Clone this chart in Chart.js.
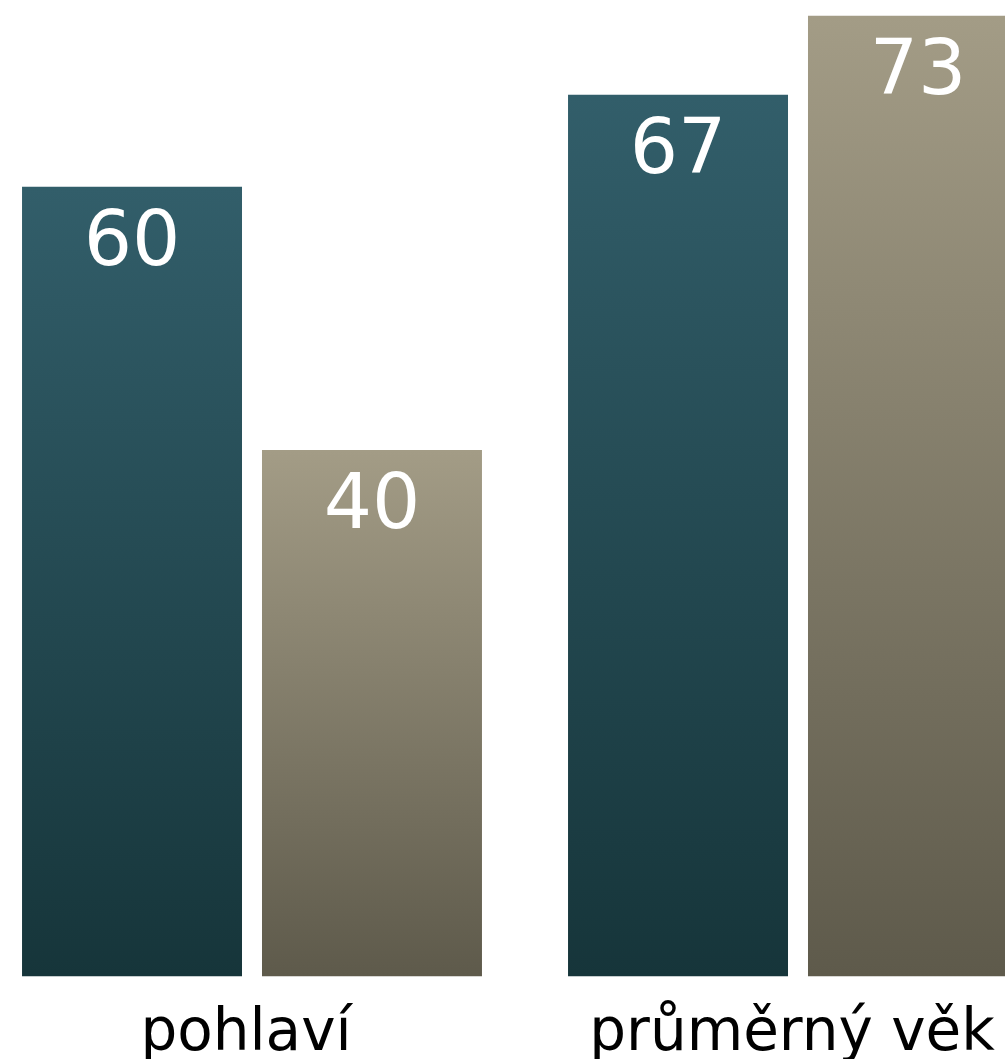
<!DOCTYPE html>
<html lang="cs">
<head>
<meta charset="utf-8">
<title>pohlaví a průměrný věk</title>
<script src="https://cdn.jsdelivr.net/npm/chart.js@4/dist/chart.umd.min.js"></script>
<style>
  html, body { margin: 0; padding: 0; background: #fff; overflow: hidden; }
  #wrap { position: absolute; left: -21px; top: 0; width: 1092px; height: 1094px; }
</style>
</head>
<body>
<div id="wrap"><canvas id="graf"></canvas></div>
<script>
// kategorie a hodnoty
const kategorie = ['pohlaví', 'průměrný věk'];
const rada1 = [60, 67];
const rada2 = [40, 73];

// barvy přechodu (nahoře, dole)
const barvy1 = ['#325e6a', '#16353a'];
const barvy2 = ['#a39c86', '#5e5a4b'];

// přechod pro každý sloupec zvlášť, od vrcholu k nule
function prechod(barvy) {
  return function (ctx) {
    const chart = ctx.chart;
    if (!chart.chartArea || ctx.parsed === undefined) return barvy[0];
    const y = chart.scales.y;
    const top = y.getPixelForValue(ctx.parsed.y);
    const bottom = y.getPixelForValue(0);
    const g = chart.ctx.createLinearGradient(0, top, 0, bottom);
    g.addColorStop(0, barvy[0]);
    g.addColorStop(1, barvy[1]);
    return g;
  };
}

// hodnoty bílým písmem uvnitř sloupců
const popisky = {
  id: 'popisky',
  afterDatasetsDraw(chart) {
    const c = chart.ctx;
    c.save();
    c.fillStyle = '#ffffff';
    c.font = '76px "DejaVu Sans"';
    c.textAlign = 'center';
    c.textBaseline = 'alphabetic';
    chart.data.datasets.forEach((ds, i) => {
      chart.getDatasetMeta(i).data.forEach((bar, j) => {
        c.fillText(String(ds.data[j]), bar.x, bar.y + 78);
      });
    });
    c.restore();
  }
};

new Chart(document.getElementById('graf'), {
  type: 'bar',
  data: {
    labels: kategorie,
    datasets: [
      { data: rada1, backgroundColor: prechod(barvy1), borderWidth: 0 },
      { data: rada2, backgroundColor: prechod(barvy2), borderWidth: 0 }
    ]
  },
  options: {
    responsive: true,
    maintainAspectRatio: false,
    animation: false,
    categoryPercentage: 0.879,
    barPercentage: 0.9167,
    layout: { padding: 0 },
    plugins: {
      legend: { display: false },
      tooltip: { enabled: false }
    },
    scales: {
      x: {
        grid: { display: false, drawTicks: false },
        border: { display: false },
        ticks: {
          color: '#000',
          padding: 24,
          labelOffset: -6,
          font: { family: 'DejaVu Sans', size: 58 }
        }
      },
      y: {
        display: false,
        min: 0,
        max: 74.2
      }
    }
  },
  plugins: [popisky]
});
</script>
</body>
</html>
